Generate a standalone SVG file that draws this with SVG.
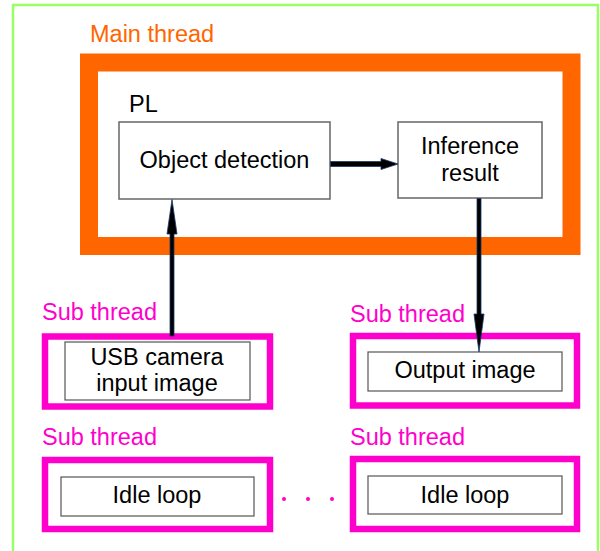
<svg xmlns="http://www.w3.org/2000/svg" width="600" height="551" viewBox="0 0 600 551">
  <style>
    text { font-family: "Liberation Sans", Arial, sans-serif; font-size: 23.5px; }
    .lbl { fill: #000; text-anchor: middle; }
    .main { fill: #ff6600; }
    .sub { fill: #ff00cc; }
    .box { fill: #fff; stroke: #666; stroke-width: 1.5; }
    .sbox { fill: #fff; stroke: #555; stroke-width: 1.2; }
    .thread { fill: none; stroke: #ff00cc; stroke-width: 6.5; }
    .arrow { fill: #000; stroke: #1b3a6b; stroke-width: 0.8; }
  </style>

  <!-- application frame -->
  <rect x="13" y="5" width="585" height="560" fill="#fff" stroke="#99ff66" stroke-width="2.5"/>

  <!-- main thread -->
  <g id="main-thread">
    <text class="main" x="90" y="42">Main thread</text>
    <rect x="89" y="62.5" width="482.5" height="183.5" fill="#fff" stroke="#ff6600" stroke-width="18"/>
    <text x="129" y="112" fill="#000">PL</text>
  </g>

  <g id="object-detection">
    <rect class="box" x="119" y="122" width="211" height="77"/>
    <text class="lbl" x="224.5" y="168">Object detection</text>
  </g>

  <g id="inference-result">
    <rect class="box" x="398" y="122" width="144" height="76"/>
    <text class="lbl" x="470" y="154">Inference</text>
    <text class="lbl" x="470" y="181">result</text>
  </g>

  <!-- sub thread: camera input -->
  <g id="sub-camera">
    <text class="sub" x="42" y="320">Sub thread</text>
    <rect class="thread" x="45" y="336.5" width="225" height="70"/>
    <rect class="sbox" x="65" y="342" width="185" height="58"/>
    <text class="lbl" x="157" y="365">USB camera</text>
    <text class="lbl" x="157" y="391">input image</text>
  </g>

  <!-- sub thread: output -->
  <g id="sub-output">
    <text class="sub" x="350" y="322">Sub thread</text>
    <rect class="thread" x="353" y="336" width="224" height="69.5"/>
    <rect class="sbox" x="368" y="352" width="194" height="39"/>
    <text class="lbl" x="465" y="378">Output image</text>
  </g>

  <!-- sub thread: idle (left) -->
  <g id="sub-idle-left">
    <text class="sub" x="42" y="445">Sub thread</text>
    <rect class="thread" x="45" y="460" width="225" height="69"/>
    <rect class="sbox" x="61" y="477" width="193" height="39"/>
    <text class="lbl" x="157" y="503">Idle loop</text>
  </g>

  <!-- sub thread: idle (right) -->
  <g id="sub-idle-right">
    <text class="sub" x="350" y="445">Sub thread</text>
    <rect class="thread" x="353" y="459" width="224" height="70"/>
    <rect class="sbox" x="368" y="476" width="194" height="38"/>
    <text class="lbl" x="465" y="503">Idle loop</text>
  </g>

  <!-- ellipsis between idle threads -->
  <g id="ellipsis" fill="#ff00cc">
    <circle cx="284" cy="499" r="2"/>
    <circle cx="308" cy="499" r="2"/>
    <circle cx="332" cy="499" r="2"/>
  </g>

  <!-- connectors -->
  <g id="connectors">
    <!-- camera input -> object detection -->
    <path class="arrow" d="M170 336 L170 234 L167 234 L172 199.5 L177 234 L174 234 L174 336 Z"/>
    <!-- object detection -> inference result -->
    <path class="arrow" d="M330.5 161.5 L381 161.5 L381 158.5 L398 164 L381 169.5 L381 166.5 L330.5 166.5 Z"/>
    <!-- inference result -> output image -->
    <path class="arrow" d="M477 198.5 L477 314 L474 314 L479 352 L484 314 L481 314 L481 198.5 Z"/>
  </g>
</svg>
